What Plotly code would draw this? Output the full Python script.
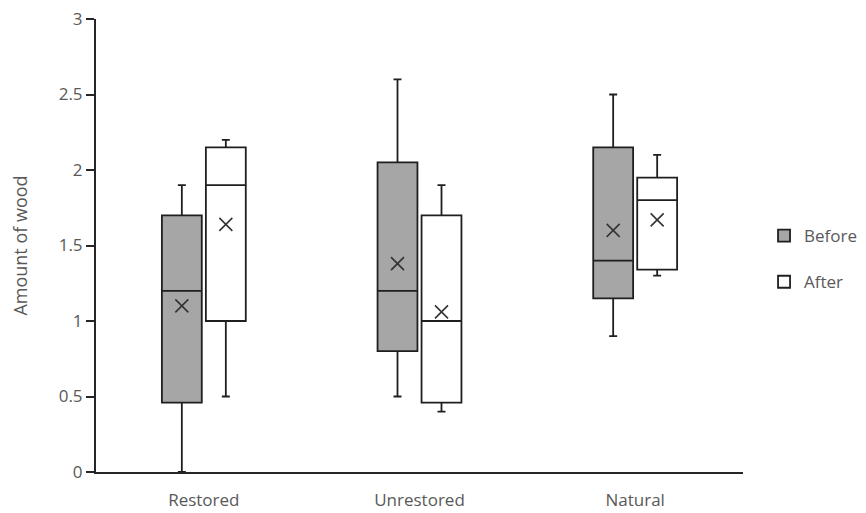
import plotly.graph_objects as go

categories = ["Restored", "Unrestored", "Natural"]

before_lower = [0.0, 0.5, 0.9]
before_q1 = [0.46, 0.8, 1.15]
before_median = [1.2, 1.2, 1.4]
before_q3 = [1.7, 2.05, 2.15]
before_upper = [1.9, 2.6, 2.5]
before_mean = [1.1, 1.38, 1.6]

after_lower = [0.5, 0.4, 1.3]
after_q1 = [1.0, 0.46, 1.34]
after_median = [1.9, 1.0, 1.8]
after_q3 = [2.15, 1.7, 1.95]
after_upper = [2.2, 1.9, 2.1]
after_mean = [1.64, 1.06, 1.67]

y_ticks = [0, 0.5, 1, 1.5, 2, 2.5, 3]

OFFSET = 0.102
BOX_W = 0.185
idx = list(range(len(categories)))
xb = [i - OFFSET for i in idx]
xa = [i + OFFSET for i in idx]

LINE = "#1f1f1f"
TXT = "#595959"
FONT = "'Open Sans', Lato, sans-serif"

fig = go.Figure()
fig.add_trace(go.Box(
    name="Before", x=xb, lowerfence=before_lower, q1=before_q1, median=before_median,
    q3=before_q3, upperfence=before_upper, width=BOX_W, whiskerwidth=0.2,
    fillcolor="#a6a6a6", line=dict(color=LINE, width=1.8), legendgroup="b",
    hoverinfo="skip",
))
fig.add_trace(go.Box(
    name="After", x=xa, lowerfence=after_lower, q1=after_q1, median=after_median,
    q3=after_q3, upperfence=after_upper, width=BOX_W, whiskerwidth=0.2,
    fillcolor="#ffffff", line=dict(color=LINE, width=1.8), legendgroup="a",
    hoverinfo="skip",
))
fig.add_trace(go.Scatter(
    x=xb, y=before_mean, mode="markers", showlegend=False, hoverinfo="skip",
    marker=dict(symbol="x-thin", size=13, line=dict(color="#333333", width=1.6)),
))
fig.add_trace(go.Scatter(
    x=xa, y=after_mean, mode="markers", showlegend=False, hoverinfo="skip",
    marker=dict(symbol="x-thin", size=13, line=dict(color="#333333", width=1.6)),
))

fig.update_layout(
    width=858, height=505,
    margin=dict(l=88, r=123, t=11, b=41, autoexpand=False),
    plot_bgcolor="white", paper_bgcolor="white",
    font=dict(family=FONT, size=17, color=TXT),
    showlegend=True,
    legend=dict(x=1.184, y=0.47, xanchor="right", yanchor="middle",
                tracegroupgap=21, font=dict(size=17, color=TXT),
                bgcolor="rgba(0,0,0,0)"),
    xaxis=dict(range=[-0.5, 2.5], tickvals=idx, ticktext=categories,
               showline=True, linecolor="#262626", linewidth=2,
               ticks="outside", ticklen=12, tickcolor="rgba(0,0,0,0)",
               showgrid=False, zeroline=False, automargin=False,
               tickfont=dict(size=17, color=TXT)),
    yaxis=dict(range=[0, 3], tickvals=y_ticks, ticktext=[str(v) for v in y_ticks],
               showline=True, linecolor="#262626", linewidth=2, ticks="outside",
               ticklen=8, tickwidth=2, tickcolor="#262626",
               showgrid=False, zeroline=False, automargin=False,
               ticklabeloverflow="allow",
               tickfont=dict(size=17, color=TXT),
               title=dict(text="Amount of wood", font=dict(size=18, color=TXT), standoff=27)),
)

fig.write_html("out.html")
